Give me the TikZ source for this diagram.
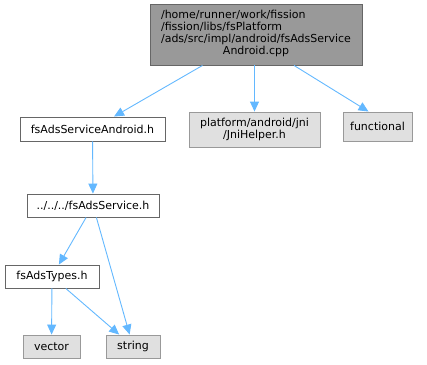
\documentclass[tikz,border=0pt]{standalone}
\usepackage{fontspec}
\setmainfont{DejaVu Sans}
\usetikzlibrary{arrows.meta,calc}
\definecolor{edgec}{HTML}{63B8FF}
\definecolor{topfill}{HTML}{999999}
\definecolor{topdraw}{HTML}{666666}
\definecolor{grayfill}{HTML}{E0E0E0}
\definecolor{graydraw}{HTML}{999999}
\tikzset{
  box/.style={draw=topdraw, fill=white, line width=0.9pt, inner sep=0pt, font=\fontsize{11}{12}\selectfont},
  topbox/.style={box, fill=topfill},
  sysbox/.style={box, draw=graydraw, fill=grayfill},
  dep/.style={draw=edgec, line width=0.9pt, -{Triangle[length=10pt,width=9pt]}}
}
\begin{document}
\begin{tikzpicture}[x=1pt,y=-1pt]
\useasboundingbox (0,0) rectangle (427,364);
\node[topbox, minimum width=212pt, minimum height=61pt] (top) at (256,34.5)
  {\begin{tabular}{@{}l@{}}/home/runner/work/fission\\/fission/libs/fsPlatform\\/ads/src/impl/android/fsAdsService\\\multicolumn{1}{@{}c@{}}{Android.cpp}\end{tabular}};
\node[box, minimum width=145pt, minimum height=24pt] (andr) at (92.5,129) {fsAdsServiceAndroid.h};
\node[sysbox, minimum width=131pt, minimum height=35pt, align=center] (jni) at (254.5,129.5) {platform/android/jni\\/JniHelper.h};
\node[sysbox, minimum width=69pt, minimum height=29pt] (func) at (377.5,126.5) {functional};
\node[box, minimum width=132pt, minimum height=23pt] (serv) at (93,205.5) {../../../fsAdsService.h};
\node[box, minimum width=94pt, minimum height=23pt] (types) at (52,276.5) {fsAdsTypes.h};
\node[sysbox, minimum width=57pt, minimum height=23pt] (vec) at (51.5,346.5) {vector};
\node[sysbox, minimum width=54pt, minimum height=23pt] (str) at (133,346.5) {string};
\draw[dep] (top) -- (andr);
\draw[dep] (top.south -| jni) -- (jni);
\draw[dep] ($(top.south)+(38,0)$) -- ($(func.north)+(-9,0)$);
\draw[dep] (andr) -- (serv);
\draw[dep] (serv) -- (types);
\draw[dep] (serv) -- (str);
\draw[dep] (types) -- (vec);
\draw[dep] (types) -- (str);
\end{tikzpicture}
\end{document}
